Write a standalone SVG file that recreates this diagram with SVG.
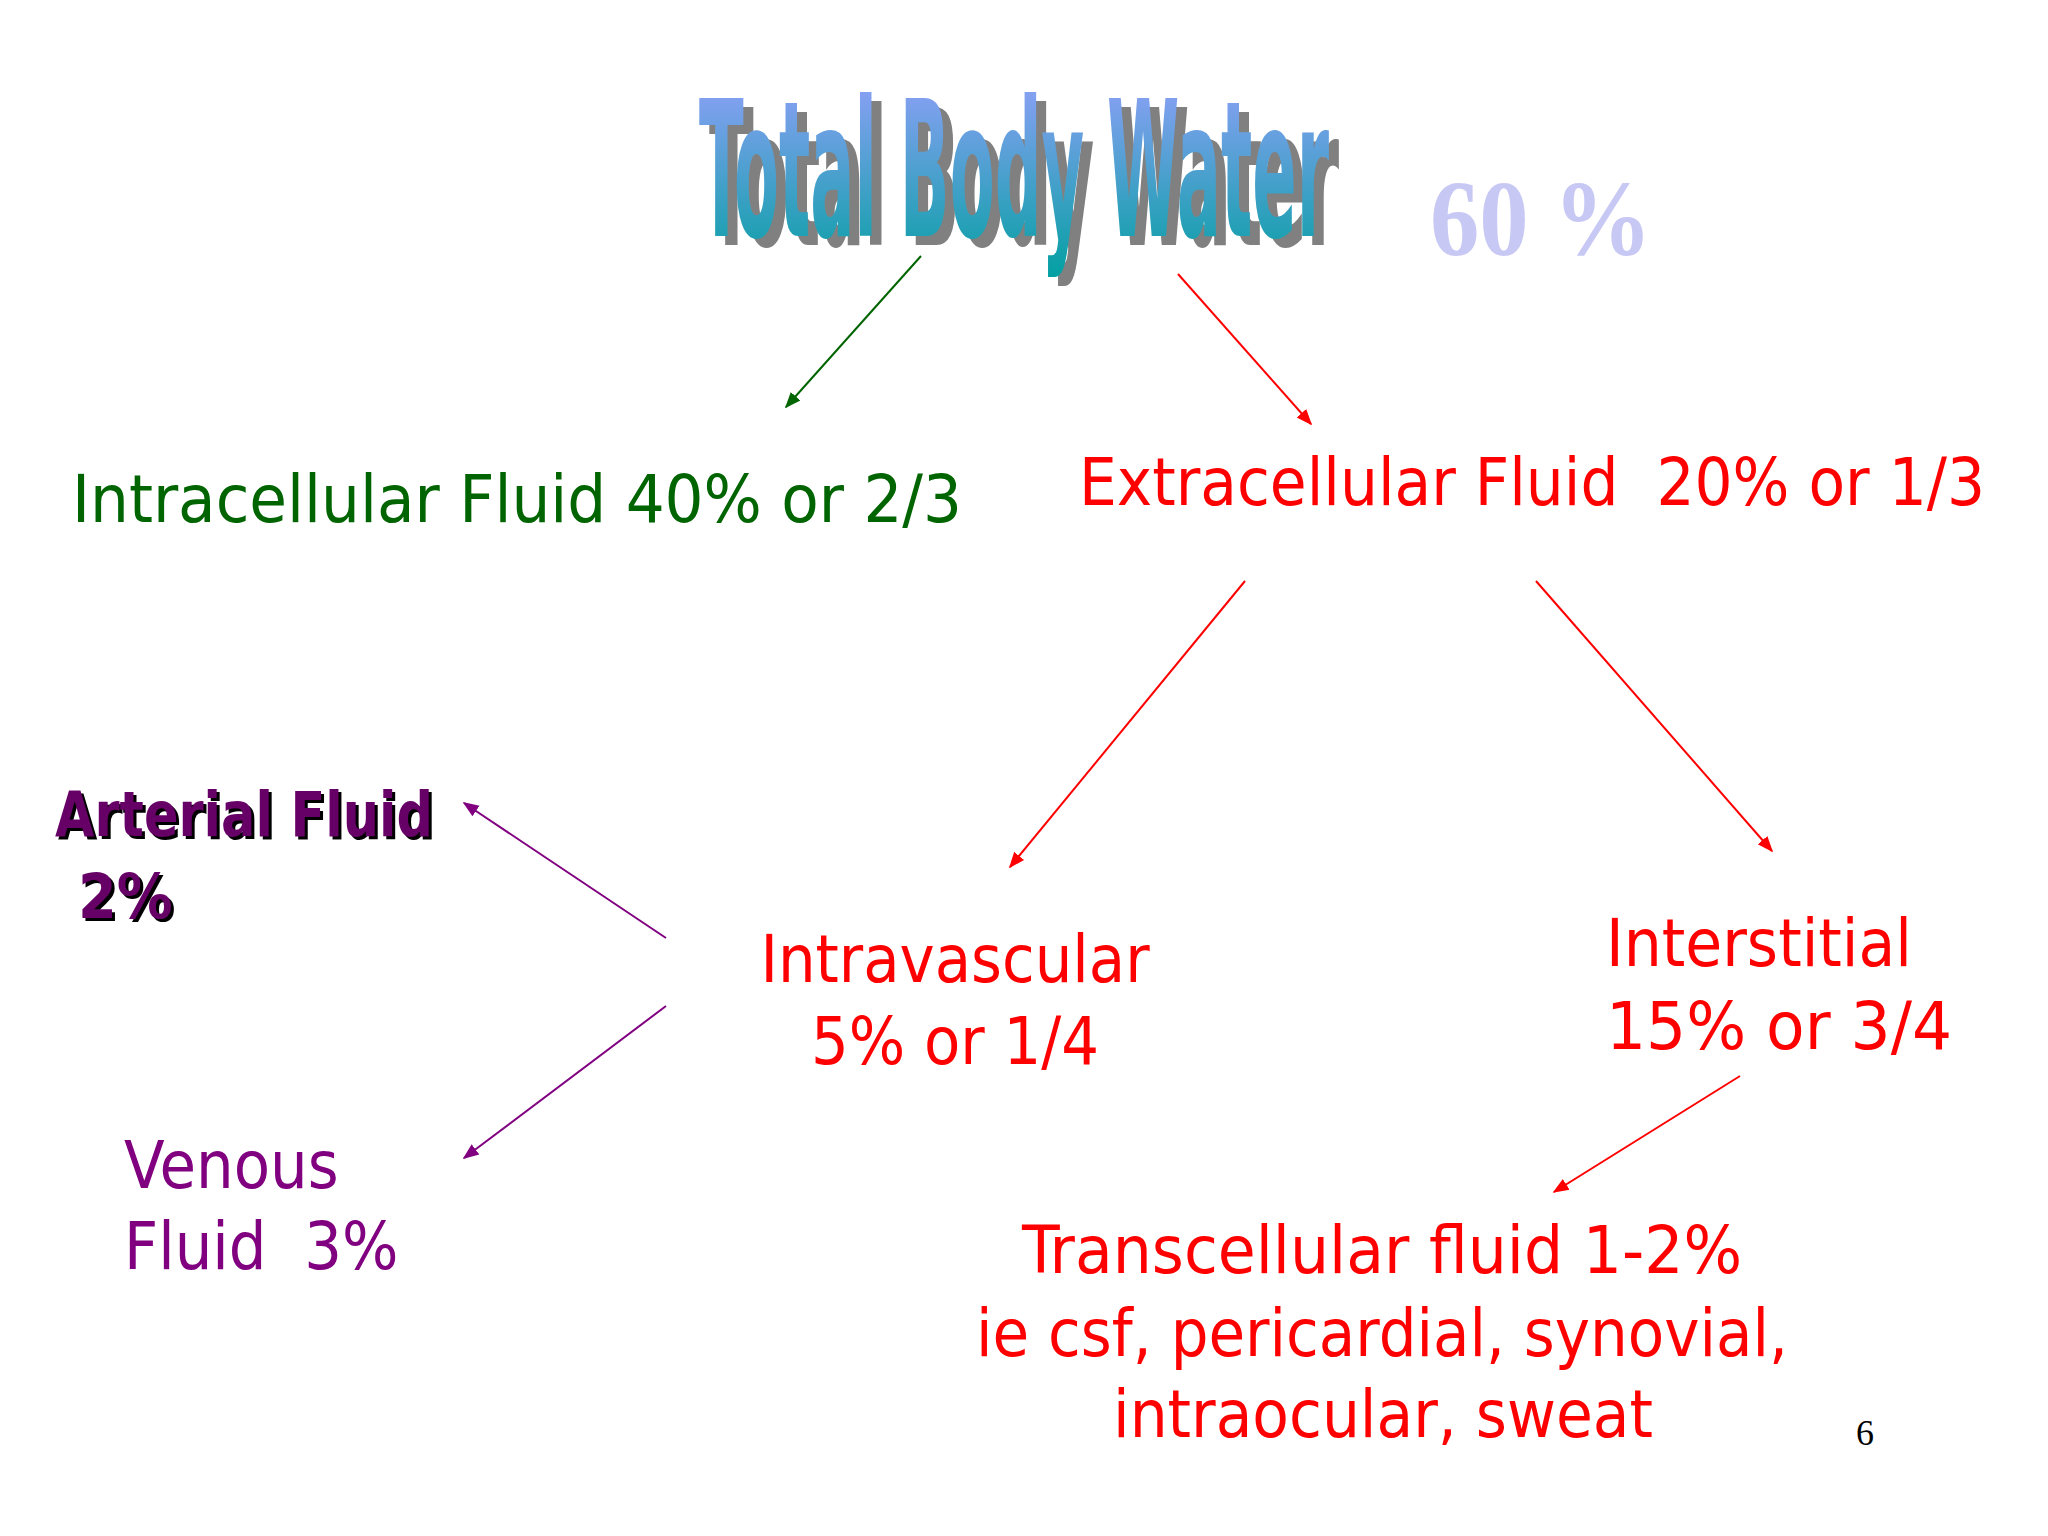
<svg xmlns="http://www.w3.org/2000/svg" width="2048" height="1536" viewBox="0 0 2048 1536">
<defs>
<linearGradient id="tg" x1="0" y1="0" x2="0" y2="1"><stop offset="0" stop-color="#9aa0ff"/><stop offset="1" stop-color="#00a0a0"/></linearGradient>
<marker id="mg" viewBox="0 0 10 10" refX="9" refY="5" markerWidth="8" markerHeight="8" orient="auto"><path d="M0,1 L10,5 L0,9 z" fill="#006400"/></marker>
<marker id="mr" viewBox="0 0 10 10" refX="9" refY="5" markerWidth="8" markerHeight="8" orient="auto"><path d="M0,1 L10,5 L0,9 z" fill="#ff0000"/></marker>
<marker id="mp" viewBox="0 0 10 10" refX="9" refY="5" markerWidth="8" markerHeight="8" orient="auto"><path d="M0,1 L10,5 L0,9 z" fill="#800080"/></marker>
</defs>
<style>
.t{font-family:"DejaVu Sans Condensed","DejaVu Sans",sans-serif;font-size:66px}
.r{fill:#ff0000}.g{fill:#006400}.p{fill:#800080}
</style>
<rect width="2048" height="1536" fill="#ffffff"/>
<g id="title">
<g transform="translate(0,245) scale(1,1.35)">
<text x="709" y="0" font-family="'DejaVu Sans Condensed',sans-serif" font-weight="bold" font-size="140" fill="#808080" textLength="630" lengthAdjust="spacingAndGlyphs">Total Body Water</text>
</g>
<g transform="translate(0,236) scale(1,1.35)">
<text x="699" y="0" font-family="'DejaVu Sans Condensed',sans-serif" font-weight="bold" font-size="140" fill="url(#tg)" textLength="630" lengthAdjust="spacingAndGlyphs">Total Body Water</text>
</g>
<text x="1430" y="255" font-family="'Liberation Serif',serif" font-weight="bold" font-size="108" fill="#c8c8f4" textLength="222" lengthAdjust="spacingAndGlyphs">60 %</text>
</g>
<g id="icf"><text class="t g" x="72" y="522" textLength="890" lengthAdjust="spacingAndGlyphs">Intracellular Fluid 40% or 2/3</text></g>
<g id="ecf"><text class="t r" x="1079" y="505" textLength="906" lengthAdjust="spacingAndGlyphs" xml:space="preserve">Extracellular Fluid  20% or 1/3</text></g>
<g id="intravascular"><text class="t r" text-anchor="middle" x="955" y="982">Intravascular</text><text class="t r" text-anchor="middle" x="955" y="1064">5% or 1/4</text></g>
<g id="interstitial"><text class="t r" x="1606" y="966" textLength="306" lengthAdjust="spacingAndGlyphs">Interstitial</text><text class="t r" x="1606" y="1049" textLength="346" lengthAdjust="spacingAndGlyphs">15% or 3/4</text></g>
<g id="arterial" font-family="'DejaVu Sans Condensed',sans-serif" font-weight="bold" font-size="62">
<text x="58" y="839" fill="#000" textLength="378" lengthAdjust="spacingAndGlyphs">Arterial Fluid</text><text x="55" y="836" fill="#660066" textLength="378" lengthAdjust="spacingAndGlyphs">Arterial Fluid</text>
<text x="81" y="921" fill="#000">2%</text><text x="78" y="918" fill="#660066">2%</text>
</g>
<g id="venous"><text class="t p" x="124" y="1188">Venous</text><text class="t p" x="124" y="1269" xml:space="preserve">Fluid  3%</text></g>
<g id="transcellular"><text class="t r" text-anchor="middle" x="1382" y="1273" textLength="720" lengthAdjust="spacingAndGlyphs">Transcellular fluid 1-2%</text><text class="t r" text-anchor="middle" x="1382" y="1356" textLength="812" lengthAdjust="spacingAndGlyphs">ie csf, pericardial, synovial,</text><text class="t r" text-anchor="middle" x="1383" y="1437" textLength="540" lengthAdjust="spacingAndGlyphs">intraocular, sweat</text></g>
<g id="page"><text x="1856" y="1445" font-family="'Liberation Serif',serif" font-size="36" fill="#000">6</text></g>
<g id="connectors" stroke-width="2" fill="none">
<line x1="921" y1="256" x2="786" y2="407" stroke="#006400" marker-end="url(#mg)"/>
<line x1="1178" y1="274" x2="1311" y2="424" stroke="#ff0000" marker-end="url(#mr)"/>
<line x1="1245" y1="581" x2="1010" y2="867" stroke="#ff0000" marker-end="url(#mr)"/>
<line x1="1536" y1="581" x2="1772" y2="851" stroke="#ff0000" marker-end="url(#mr)"/>
<line x1="666" y1="938" x2="464" y2="803" stroke="#800080" marker-end="url(#mp)"/>
<line x1="666" y1="1006" x2="464" y2="1158" stroke="#800080" marker-end="url(#mp)"/>
<line x1="1740" y1="1076" x2="1554" y2="1192" stroke="#ff0000" marker-end="url(#mr)"/>
</g>
</svg>
